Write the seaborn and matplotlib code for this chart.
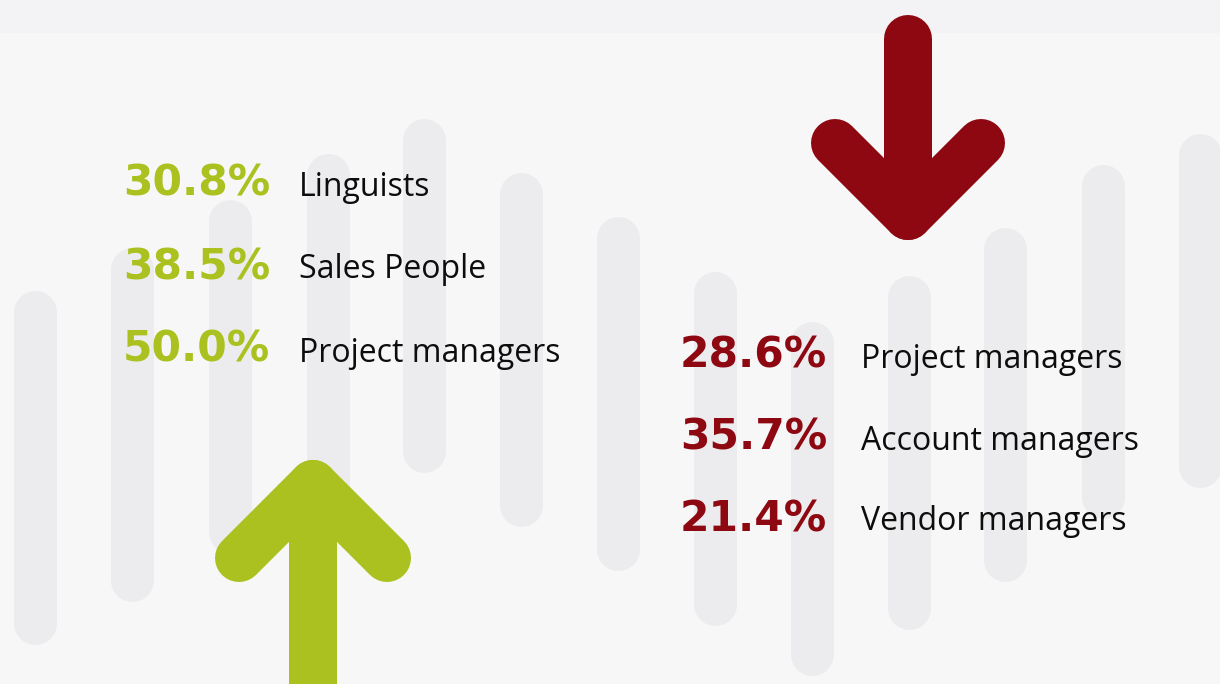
import matplotlib
matplotlib.use("Agg")
import matplotlib.pyplot as plt
import seaborn as sns
import numpy as np

# ---- data ----
up_values = ["30.8%", "38.5%", "50.0%"]
up_labels = ["Linguists", "Sales People", "Project managers"]
down_values = ["28.6%", "35.7%", "21.4%"]
down_labels = ["Project managers", "Account managers", "Vendor managers"]

# decorative background pills (centre x, top y) in pixel coords
pill_x = [35, 132, 230, 328, 424, 521, 618, 715, 812, 909, 1005, 1103, 1200]
pill_top = [290, 247, 199, 153, 118, 172, 216, 271, 321, 275, 227, 164, 133]

GREEN = "#aac11f"
RED = "#8e0812"
PILL = "#ececef"
BG = "#f7f7f7"

sns.set_theme(style="white")
plt.rcParams["font.family"] = ["Open Sans", "DejaVu Sans"]

W, H = 1220, 684
fig = plt.figure(figsize=(W / 100, H / 100), dpi=100)
fig.patch.set_facecolor(BG)
ax = fig.add_axes([0, 0, 1, 1])
ax.set_xlim(0, W)
ax.set_ylim(H, 0)
ax.set_facecolor(BG)
ax.axis("off")

# slight top band
ax.axhspan(0, 33, color="#f3f3f5", lw=0, zorder=0)

px = 0.72  # points per pixel at dpi 100

# pills
pill_len, pill_w = 354, 43
for x, t in zip(pill_x, pill_top):
    ax.plot([x, x], [t + pill_w / 2, t + pill_len - pill_w / 2], color=PILL,
            lw=pill_w * px, solid_capstyle="round", zorder=1)

# arrows
aw = 48 * px
def arrow(cx, tip_y, tail_y, arm_dx, arm_dy, color):
    kw = dict(color=color, lw=aw, solid_capstyle="round", solid_joinstyle="round", zorder=3)
    ax.plot([cx, cx], [tail_y, tip_y], **kw)
    ax.plot([cx - arm_dx, cx, cx + arm_dx], [tip_y + arm_dy, tip_y, tip_y + arm_dy], **kw)

arrow(313, 484, 720, 74, 74, GREEN)
arrow(908, 216, 39, 73, -73, RED)

num_font = dict(family=["DejaVu Sans"], fontsize=30.5, fontweight="bold")
lab_font = dict(fontsize=23, color="#0d0d0d")

# left texts
left_y = [184, 267, 350]
for v, lab, y in zip(up_values, up_labels, left_y):
    ax.text(270, y, v, color=GREEN, ha="right", va="center", zorder=4, **num_font)
    ax.text(299, y + 3, lab, ha="left", va="center", zorder=4, **lab_font)

right_y = [356, 438, 519]
for v, lab, y in zip(down_values, down_labels, right_y):
    ax.text(827, y, v, color=RED, ha="right", va="center", zorder=4, **num_font)
    ax.text(861, y + 3, lab, ha="left", va="center", zorder=4, **lab_font)

fig.savefig("out.png", dpi=100, facecolor=BG)
